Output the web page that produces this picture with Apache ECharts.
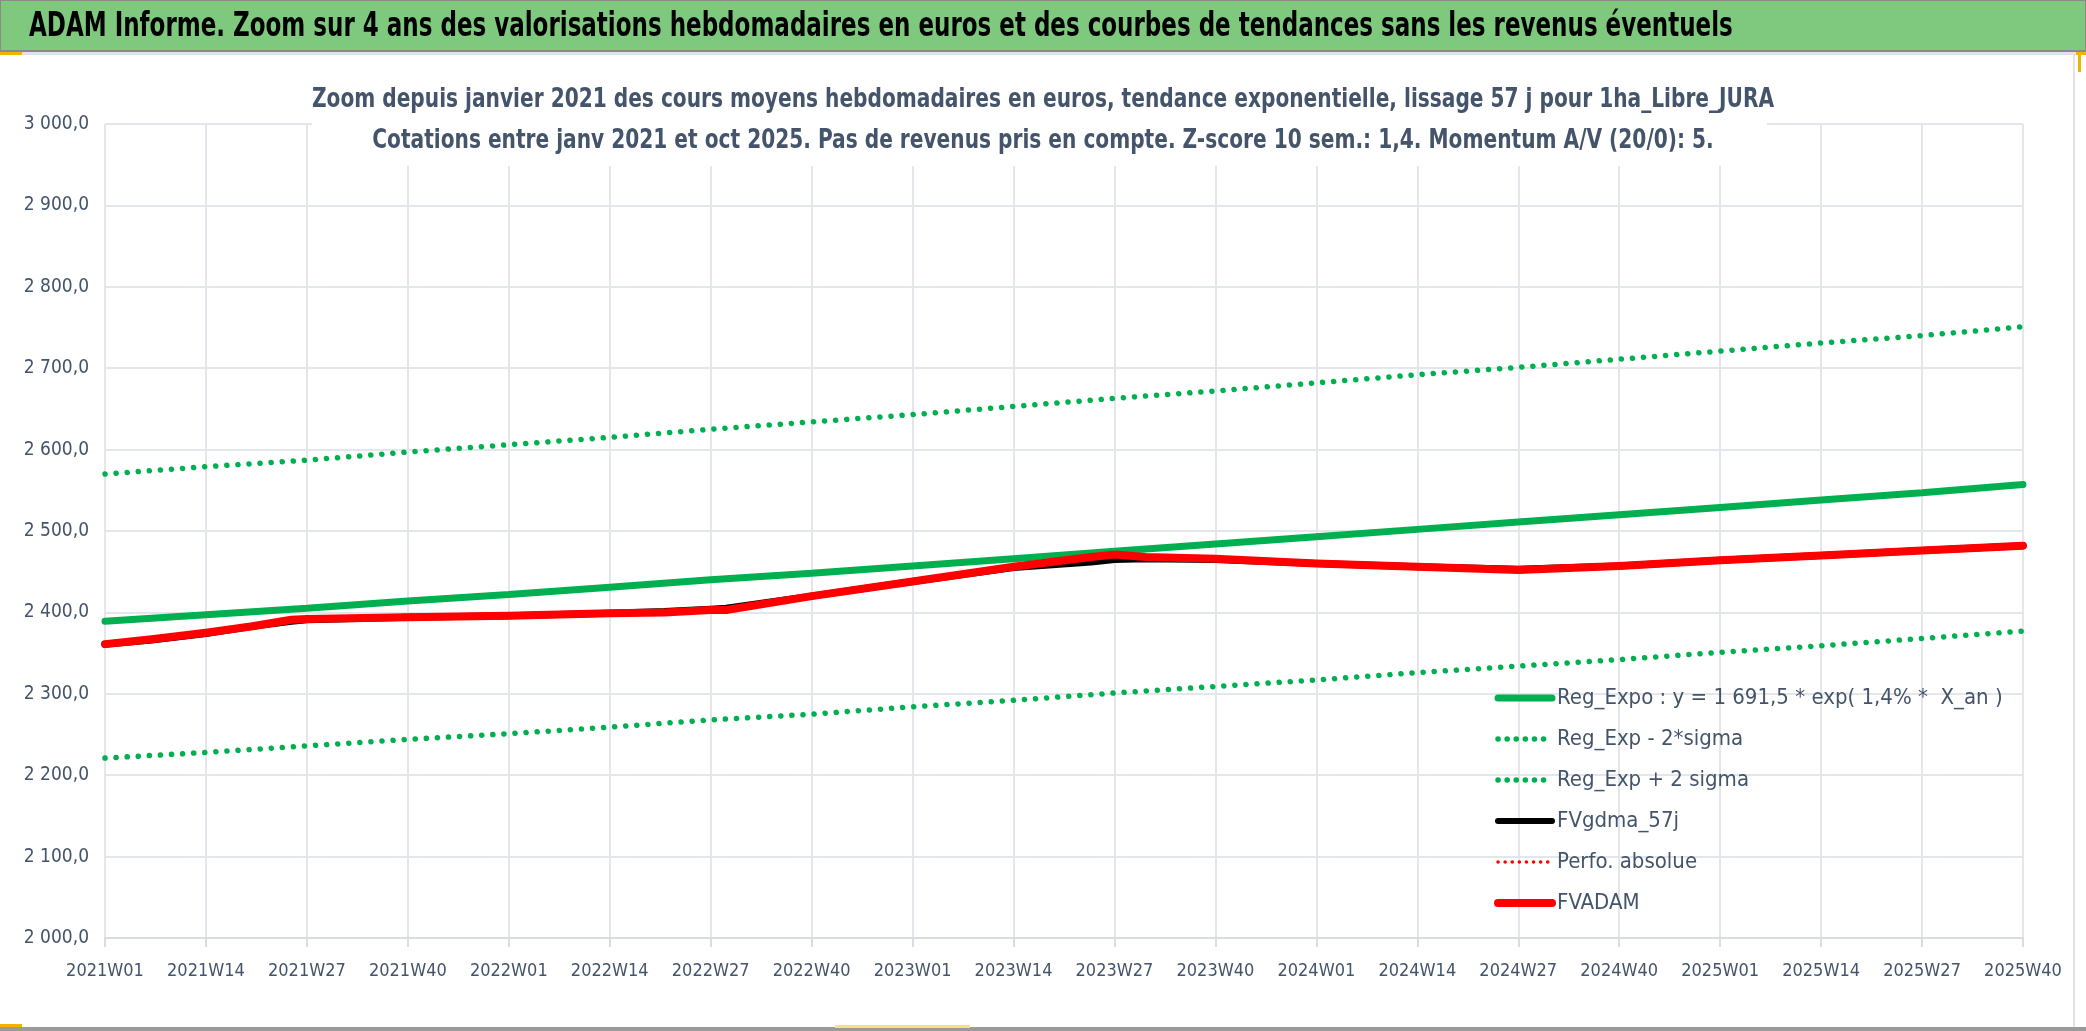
<!DOCTYPE html>
<html>
<head>
<meta charset="utf-8">
<script src="https://cdn.jsdelivr.net/npm/echarts@6/dist/echarts.min.js"></script>
<style>
html,body{margin:0;padding:0;background:#fff;}
#chart{width:2086px;height:1031px;}
</style>
</head>
<body>
<div id="chart"></div>
<script>
// semaines affichées sur l'axe (toutes les 13 semaines)
var labelWeeks = ['2021W01','2021W14','2021W27','2021W40','2022W01','2022W14','2022W27','2022W40',
    '2023W01','2023W14','2023W27','2023W40','2024W01','2024W14','2024W27','2024W40',
    '2025W01','2025W14','2025W27','2025W40'];
// tendance exponentielle et bandes +/- 2 sigma (lues aux semaines affichées)
var regExpo = [2389,2397,2405,2414,2422,2431,2440,2448,2457,2466,2475,2484,2493,2502,2511,2520,2529,2538,2547,2557];
var regLow  = [2221,2228,2236,2244,2251,2259,2268,2275,2284,2292,2301,2309,2317,2326,2334,2342,2351,2359,2368,2377];
var regHigh = [2570,2579,2587,2597,2606,2615,2625,2634,2643,2653,2663,2672,2682,2692,2701,2711,2721,2731,2740,2751];
// FVADAM et FVgdma_57j
var fvWeeks  = ['2021W01','2021W07','2021W14','2021W20','2021W25','2021W27','2021W40','2022W01','2022W14','2022W21',
    '2022W27','2022W29','2022W40','2023W01','2023W14','2023W24','2023W27','2023W31','2023W40','2024W01',
    '2024W14','2024W27','2024W40','2025W01','2025W14','2025W27','2025W40'];
var fvadam   = [2361,2367,2375,2383,2391,2392,2394,2396,2399,2400,
    2403,2403,2420,2438,2456,2468,2471,2468,2466,2460,
    2456,2452,2457,2464,2470,2476,2482];
var fvgdma   = [2361,2366,2374,2383,2389,2391,2394,2396,2399,2401,
    2404,2405,2420,2438,2455,2462,2465,2466,2465,2460,
    2456,2453,2457,2464,2470,2476,2482];
var perfo = [];

// toutes les semaines 2021W01..2025W40
var weeks = [];
[2021,2022,2023,2024,2025].forEach(function(y){
    var last = y === 2025 ? 40 : 52;
    for (var w = 1; w <= last; w++) weeks.push(y + 'W' + (w < 10 ? '0' + w : w));
});

function pairs(names, vals){
    return vals.map(function(v, i){ return [names[i], v]; });
}
function fmtY(v){
    var th = Math.floor(v / 1000), r = String(v % 1000);
    while (r.length < 3) r = '0' + r;
    return th + ' ' + r + ',0';
}

var FONT = "'DejaVu Sans Condensed',sans-serif";
var GREEN = '#00b050';
var dotted = [0.1, 11];
var TXT = '#44546a';

var names = ['Reg_Expo : y = 1 691,5 * exp( 1,4% *  X_an )','Reg_Exp - 2*sigma','Reg_Exp + 2 sigma','FVgdma_57j','Perfo. absolue','FVADAM'];

var chart = echarts.init(document.getElementById('chart'));
var option = {
    animation: false,
    backgroundColor: '#fff',
    graphic: [
        {type:'rect', shape:{x:0,y:0,width:2086,height:51}, style:{fill:'#7fc97f', stroke:'#8a8a8a', lineWidth:2}},
        {type:'rect', shape:{x:0,y:52,width:2086,height:3}, style:{fill:'#dfe2e7'}},
        {type:'rect', shape:{x:2073,y:55,width:2,height:972}, style:{fill:'#e3e3e3'}},
        {type:'rect', shape:{x:0,y:1027,width:2086,height:4}, style:{fill:'#9a9a9a'}},
        {type:'rect', shape:{x:0,y:52,width:22,height:3}, style:{fill:'#f0b400'}},
        {type:'rect', shape:{x:2076,y:52,width:10,height:3}, style:{fill:'#f0b400'}},
        {type:'rect', shape:{x:2078,y:52,width:3,height:20}, style:{fill:'#f0b400'}},
        {type:'rect', shape:{x:0,y:1024,width:22,height:3}, style:{fill:'#f0b400'}},
        {type:'rect', shape:{x:835,y:1025,width:135,height:3}, style:{fill:'#f5e27a'}},
        {type:'text', x:29, y:27, scaleX:0.775,
            style:{text:'ADAM Informe. Zoom sur 4 ans des valorisations hebdomadaires en euros et des courbes de tendances sans les revenus éventuels',
                fill:'#000', font:'bold 33px ' + FONT, verticalAlign:'middle'}},
        // zone du sous-titre (masque la grille)
        {type:'rect', z:100, shape:{x:312,y:60,width:1455,height:106}, style:{fill:'#fff'}},
        {type:'text', z:101, x:1043, y:100, scaleX:0.83,
            style:{text:'Zoom depuis janvier 2021 des cours moyens hebdomadaires en euros, tendance exponentielle, lissage 57 j pour 1ha_Libre_JURA',
                fill:TXT, font:'bold 27px ' + FONT, align:'center', verticalAlign:'middle'}},
        {type:'text', z:101, x:1043, y:141, scaleX:0.83,
            style:{text:'Cotations entre janv 2021 et oct 2025. Pas de revenus pris en compte. Z-score 10 sem.: 1,4. Momentum A/V (20/0): 5.',
                fill:TXT, font:'bold 27px ' + FONT, align:'center', verticalAlign:'middle'}}
    ],
    grid: {left: 105, right: 63, top: 124, bottom: 93},
    legend: {
        orient: 'vertical',
        left: 1489, top: 682,
        itemWidth: 54, itemHeight: 14, itemGap: 19,
        itemStyle: {opacity: 0},
        textStyle: {fontFamily: FONT, fontSize: 22, color: TXT, lineHeight: 22},
        data: [
            {name: names[0], lineStyle: {width: 7, color: GREEN}},
            {name: names[1], lineStyle: {width: 5.5, color: GREEN, type: [0.1, 9], cap: 'round'}},
            {name: names[2], lineStyle: {width: 5.5, color: GREEN, type: [0.1, 9], cap: 'round'}},
            {name: names[3], lineStyle: {width: 6, color: '#000'}},
            {name: names[4], lineStyle: {width: 3.5, color: '#ff0000', type: [0.1, 7], cap: 'round'}},
            {name: names[5], lineStyle: {width: 8, color: '#ff0000', cap: 'round'}}
        ]
    },
    xAxis: {
        type: 'category',
        data: weeks,
        boundaryGap: false,
        axisLine: {lineStyle: {color: '#d9dce1', width: 2}},
        axisTick: {show: true, interval: 12, length: 9, lineStyle: {color: '#d9dce1', width: 2}},
        axisLabel: {interval: 12, margin: 24, fontFamily: FONT, fontSize: 18, color: TXT},
        splitLine: {show: true, interval: 12, lineStyle: {color: '#e3e6eb', width: 2}}
    },
    yAxis: {
        type: 'value',
        min: 2000, max: 3000, interval: 100,
        axisLine: {show: false},
        axisTick: {show: false},
        axisLabel: {margin: 16, fontFamily: FONT, fontSize: 19, color: TXT, formatter: fmtY},
        splitLine: {lineStyle: {color: '#e3e6eb', width: 2}}
    },
    series: [
        {name: names[0], type: 'line', symbol: 'none',
            data: pairs(labelWeeks, regExpo), color: GREEN,
            lineStyle: {color: GREEN, width: 7, cap: 'round'}},
        {name: names[1], type: 'line', symbol: 'none',
            data: pairs(labelWeeks, regLow), color: GREEN,
            lineStyle: {color: GREEN, width: 5.5, type: dotted, cap: 'round'}},
        {name: names[2], type: 'line', symbol: 'none',
            data: pairs(labelWeeks, regHigh), color: GREEN,
            lineStyle: {color: GREEN, width: 5.5, type: dotted, cap: 'round'}},
        {name: names[3], type: 'line', symbol: 'none',
            data: pairs(fvWeeks, fvgdma), color: '#000',
            lineStyle: {color: '#000', width: 7, cap: 'round', join: 'round'}},
        {name: names[4], type: 'line', symbol: 'none',
            data: perfo, color: '#ff0000',
            lineStyle: {color: '#ff0000', width: 3.5, type: [0.1, 7], cap: 'round'}},
        {name: names[5], type: 'line', symbol: 'none',
            data: pairs(fvWeeks, fvadam), color: '#ff0000',
            lineStyle: {color: '#ff0000', width: 8, cap: 'round', join: 'round'}}
    ]
};
chart.setOption(option);
</script>
</body>
</html>
